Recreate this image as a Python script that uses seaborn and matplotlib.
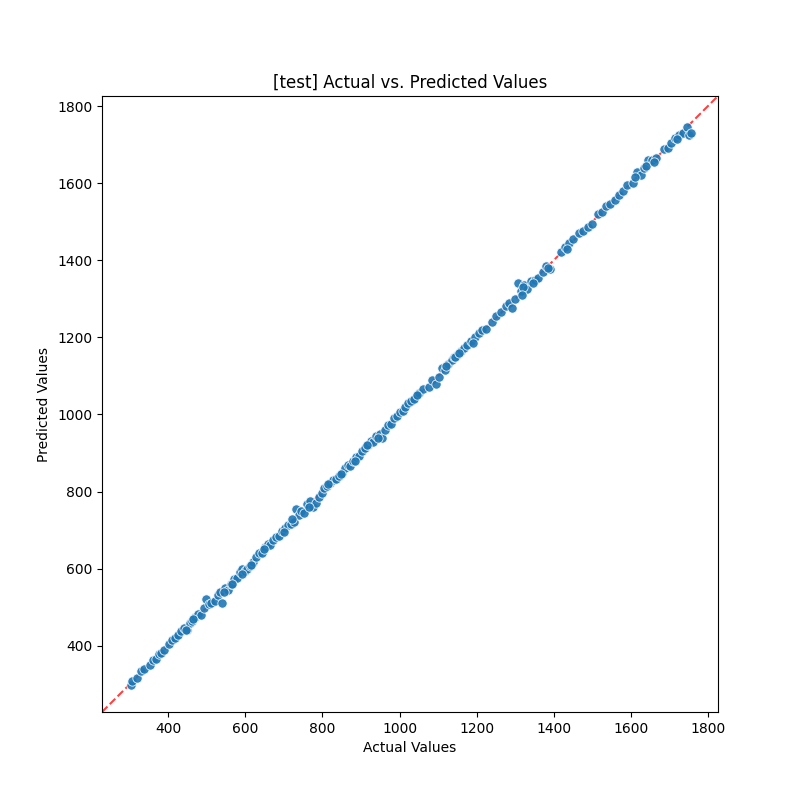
import matplotlib
matplotlib.use("Agg")
import matplotlib.pyplot as plt
import seaborn as sns
import pandas as pd

actual = [302, 305, 318, 330, 338, 352, 360, 368, 375, 382, 390, 402, 410, 418, 425, 433, 440, 448, 455,
          462, 470, 478, 485, 492, 498, 505, 512, 520, 528, 535, 540, 548, 555, 562, 570, 578, 585, 592,
          598, 605, 612, 620, 628, 635, 642, 650, 658, 665, 672, 680, 688, 695, 702, 710, 718, 725, 730,
          738, 745, 752, 760, 768, 775, 782, 790, 798, 805, 812, 820, 828, 835, 842, 850, 858, 865, 872,
          880, 888, 895, 902, 910, 918, 925, 932, 940, 948, 955, 962, 970, 978, 985, 992, 1000, 1008, 1015,
          1022, 1030, 1038, 1050, 1062, 1075, 1085, 1095, 1102, 1110, 1118, 1125, 1135, 1142, 1150, 1160,
          1168, 1175, 1185, 1195, 1205, 1215, 1225, 1240, 1250, 1262, 1275, 1285, 1292, 1300, 1308, 1315,
          1322, 1330, 1340, 1350, 1360, 1372, 1380, 1390, 1420, 1430, 1440, 1450, 1465, 1475, 1490, 1500,
          1515, 1525, 1535, 1545, 1560, 1570, 1580, 1590, 1605, 1615, 1625, 1635, 1645, 1655, 1665, 1685,
          1695, 1705, 1715, 1725, 1735, 1745, 1752, 1755,
          445, 465, 545, 565, 590, 615, 648, 700, 722, 765, 815, 848, 885, 915, 945, 1045, 1120, 1145, 1155,
          1190, 1320, 1318, 1345, 1385, 1435, 1610, 1640, 1660, 1720]
predicted = [298, 308, 315, 335, 340, 350, 362, 365, 378, 380, 388, 405, 415, 420, 428, 438, 445, 442, 460,
             465, 475, 482, 480, 498, 520, 508, 510, 515, 532, 540, 510, 550, 545, 560, 572, 575, 590, 598,
             595, 600, 608, 618, 630, 640, 640, 655, 665, 660, 675, 682, 685, 698, 705, 712, 715, 720, 755,
             740, 750, 745, 768, 775, 760, 770, 785, 795, 808, 815, 822, 830, 832, 840, 848, 862, 870, 865,
             880, 890, 892, 905, 912, 920, 930, 928, 945, 950, 940, 960, 972, 975, 990, 995, 1005, 1010, 1020,
             1030, 1035, 1040, 1055, 1065, 1070, 1090, 1080, 1098, 1120, 1115, 1130, 1140, 1148, 1155, 1165,
             1172, 1180, 1190, 1200, 1210, 1220, 1222, 1240, 1255, 1265, 1280, 1290, 1275, 1300, 1340, 1320,
             1335, 1325, 1345, 1348, 1355, 1370, 1385, 1378, 1422, 1435, 1445, 1455, 1470, 1475, 1485, 1495,
             1520, 1525, 1540, 1545, 1555, 1570, 1580, 1595, 1600, 1630, 1620, 1640, 1660, 1660, 1665, 1688,
             1690, 1705, 1718, 1725, 1730, 1745, 1725, 1730,
             440, 468, 540, 560, 585, 610, 652, 695, 728, 760, 820, 845, 880, 920, 940, 1050, 1125, 1150, 1160,
             1185, 1330, 1310, 1340, 1380, 1430, 1615, 1645, 1655, 1715]

df = pd.DataFrame({"Actual Values": actual, "Predicted Values": predicted})

fig, ax = plt.subplots(figsize=(8, 8), dpi=100)
lo, hi = 228, 1826
ax.plot([lo, hi], [lo, hi], "r--", alpha=0.75, zorder=1)
sns.scatterplot(data=df, x="Actual Values", y="Predicted Values", s=45, alpha=0.9,
                edgecolor="white", linewidth=0.6, color="#1f77b4", ax=ax, zorder=2)
ax.set_xlim(lo, hi)
ax.set_ylim(lo, hi)
ax.set_aspect("equal")
ax.set_title("[test] Actual vs. Predicted Values")
fig.savefig("out.png")
